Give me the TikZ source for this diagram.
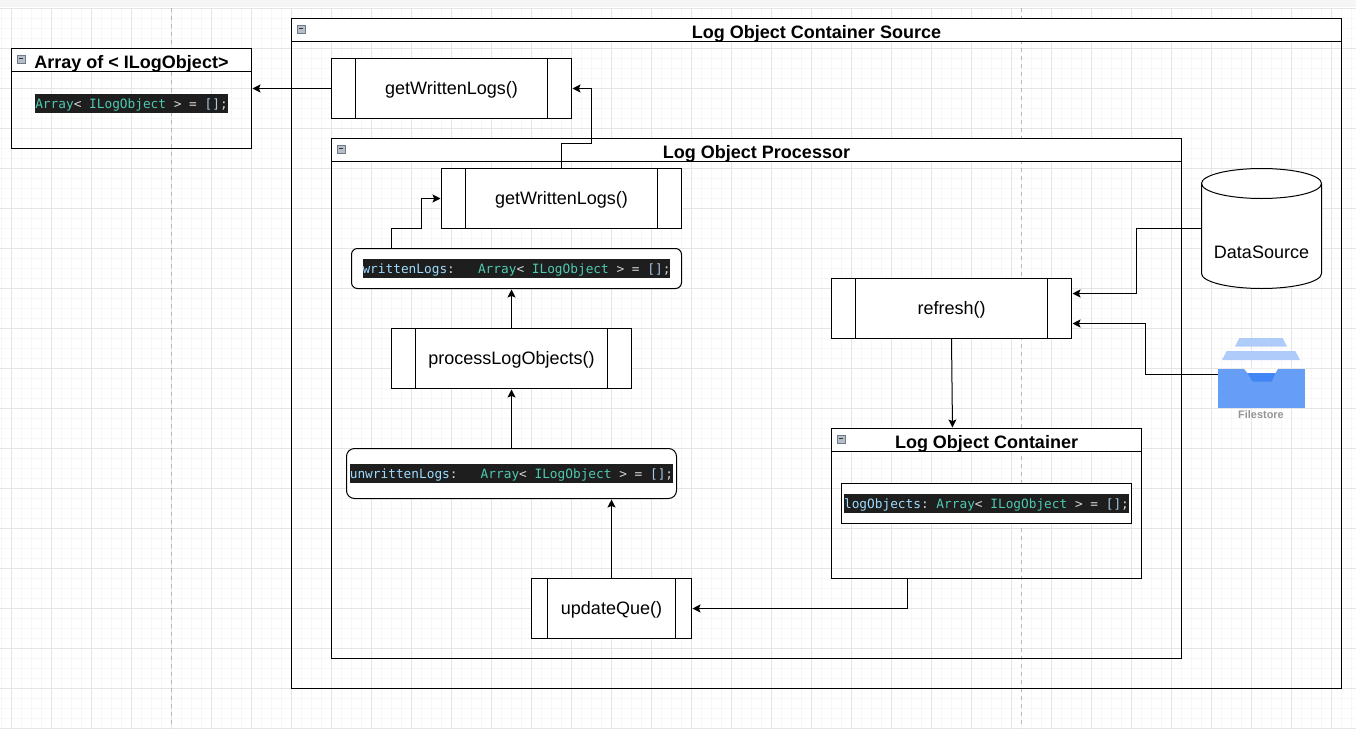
\documentclass[tikz,border=0pt]{standalone}
\usepackage{fontspec}
\setmainfont{Liberation Sans}
\setmonofont{DejaVu Sans Mono}
\usetikzlibrary{arrows.meta}

\newcommand{\px}{0.75pt}
\definecolor{codebg}{HTML}{1E1E1E}
\definecolor{codetype}{HTML}{4EC9B0}
\definecolor{codename}{HTML}{9CDCFE}
\definecolor{codepunct}{HTML}{D4D4D4}
\definecolor{codebrack}{HTML}{A9C8E4}
\definecolor{storelight}{HTML}{AECBFA}
\definecolor{storebody}{HTML}{669DF6}
\definecolor{storedark}{HTML}{4285F4}
\definecolor{btnfill}{HTML}{B8BEC8}
\definecolor{btnedge}{HTML}{6E7A8A}
\newcommand{\arraycode}{\textcolor{codetype}{Array}\textcolor{codepunct}{<~}\textcolor{codetype}{ILogObject}\textcolor{codepunct}{~>~=~}\textcolor{codebrack}{[]}\textcolor{codepunct}{;}}

\tikzset{
  lane/.style={draw, line width=\px, inner sep=0pt, outer sep=0pt, anchor=north west},
  lanetitle/.style={lane, fill=white, minimum height=23*\px, text height=12pt, text depth=0pt, font=\fontsize{13.5}{13.5}\selectfont\bfseries},
  lanebtn/.style={draw=btnedge, fill=btnfill, line width=0.5pt, minimum size=8*\px, inner sep=0pt, anchor=north west, path picture={\draw[black!80, line width=0.7pt] ([xshift=1.5pt]path picture bounding box.west) -- ([xshift=-1.5pt]path picture bounding box.east);}},
  procbox/.style={draw, fill=white, line width=\px, inner sep=0pt, outer sep=0pt, anchor=north west, text height=11.4pt, text depth=2.8pt, font=\fontsize{13.5}{13.5}\selectfont, path picture={
    \draw[line width=\px] ([xshift=#1*\px]path picture bounding box.north west) -- ([xshift=#1*\px]path picture bounding box.south west);
    \draw[line width=\px] ([xshift=-#1*\px]path picture bounding box.north east) -- ([xshift=-#1*\px]path picture bounding box.south east);}},
  codebox/.style={draw, fill=white, line width=\px, inner sep=0pt, outer sep=0pt, anchor=north west},
  codetext/.style={fill=codebg, inner sep=0pt, text height=10.875pt, text depth=3.375pt, font=\ttfamily\fontsize{9.59}{9.59}\selectfont},
  conn/.style={draw, line width=\px, ->, shorten >=\px}
}

\begin{document}
\begin{tikzpicture}[x=\px, y=-\px, >={Stealth[length=6pt, width=6pt, inset=1.2pt]}]
  \useasboundingbox (0,0) rectangle (1356,728);
  % Page band and grid
  \fill[gray!8] (0,0) rectangle (1356,7);
  \foreach \gx in {1,11,...,1351} \draw[black!3, line width=\px] (\gx,8) -- (\gx,728);
  \foreach \gy in {18,28,...,728} \draw[black!3, line width=\px] (0,\gy) -- (1356,\gy);
  \foreach \gx in {11,51,...,1351} \draw[black!10, line width=\px] (\gx,8) -- (\gx,728);
  \foreach \gy in {8,48,...,728} \draw[black!10, line width=\px] (0,\gy) -- (1356,\gy);
  \foreach \gx in {171,1021} \draw[black!28, dashed, line width=\px] (\gx,8) -- (\gx,728);

  % Lanes
  \node[lane, minimum width=240*\px, minimum height=100*\px] (arrayLane) at (11.5,48.5) {};
  \node[lanetitle, minimum width=240*\px] (arrayTitle) at (arrayLane.north west) {Array of < ILogObject>};
  \node[lane, minimum width=1050*\px, minimum height=670*\px] (sourceLane) at (291.5,18.5) {};
  \node[lanetitle, minimum width=1050*\px] (sourceTitle) at (sourceLane.north west) {Log Object Container Source};
  \node[lane, minimum width=850*\px, minimum height=520*\px] (processorLane) at (331.5,138.5) {};
  \node[lanetitle, minimum width=850*\px] (processorTitle) at (processorLane.north west) {Log Object Processor};
  \node[lane, minimum width=310*\px, minimum height=150*\px] (containerLane) at (831.5,428.5) {};
  \node[lanetitle, minimum width=310*\px] (containerTitle) at (containerLane.north west) {Log Object Container};
  \foreach \lane in {arrayLane,sourceLane,processorLane,containerLane}
    \node[lanebtn] at ([xshift=5*\px, yshift=-6*\px]\lane.north west) {};

  % Process boxes
  \node[procbox=24, minimum width=240*\px, minimum height=60*\px] (topLogs) at (331.5,58.5) {getWrittenLogs()};
  \node[procbox=24, minimum width=240*\px, minimum height=60*\px] (innerLogs) at (441.5,168.5) {getWrittenLogs()};
  \node[procbox=24, minimum width=240*\px, minimum height=60*\px] (processLogObjects) at (391.5,328.5) {processLogObjects()};
  \node[procbox=24, minimum width=240*\px, minimum height=60*\px] (refreshMain) at (831.5,278.5) {refresh()};
  \node[procbox=16, minimum width=160*\px, minimum height=60*\px] (updateQue) at (531.5,578.5) {updateQue()};

  % Code boxes
  \node[codebox, rounded corners=6*\px, minimum width=330*\px, minimum height=40*\px] (writtenLogs) at (351.5,248.5) {};
  \node[codebox, rounded corners=8*\px, minimum width=330*\px, minimum height=50*\px] (unwrittenLogs) at (346.5,448.5) {};
  \node[codebox, minimum width=290*\px, minimum height=40*\px] (logObjects) at (841.5,483.5) {};
  \node[codetext] (arrayCode) at (131.5,103.5) {\arraycode};
  \node[codetext] (writtenCode) at (writtenLogs) {\textcolor{codename}{writtenLogs}\textcolor{codepunct}{:~~~}\arraycode};
  \node[codetext] (unwrittenCode) at (unwrittenLogs) {\textcolor{codename}{unwrittenLogs}\textcolor{codepunct}{:~~~}\arraycode};
  \node[codetext] (logObjectsCode) at (logObjects) {\textcolor{codename}{logObjects}\textcolor{codepunct}{:~}\arraycode};

  % Data source
  \node[inner sep=0pt, outer sep=0pt, minimum width=120*\px, minimum height=120*\px] (dataSource) at (1261.5,228.5) {};
  \draw[fill=white, line width=\px] ([yshift=-15*\px]dataSource.north west) arc[start angle=180, end angle=0, x radius=60*\px, y radius=15*\px] -- ([yshift=15*\px]dataSource.south east) arc[start angle=0, end angle=-180, x radius=60*\px, y radius=15*\px] -- cycle;
  \draw[line width=\px] ([yshift=-15*\px]dataSource.north west) arc[start angle=180, end angle=360, x radius=60*\px, y radius=15*\px];
  \node[font=\fontsize{13.5}{13.5}\selectfont] (dataSourceLabel) at (1261.5,252) {DataSource};

  % Filestore icon
  \fill[storelight] (1239.3,338) -- (1282.7,338) -- (1287,346.7) -- (1235,346.7) -- cycle;
  \fill[storelight] (1226.7,351) -- (1295.3,351) -- (1300,360) -- (1222,360) -- cycle;
  \node[fill=storebody, inner sep=0pt, minimum width=86.6*\px, minimum height=39.3*\px, anchor=north west] (fileStore) at (1217.7,368.7) {};
  \fill[white] (1244,368.7) -- (1278,368.7) -- (1275.5,373) -- (1247.5,373) -- cycle;
  \fill[storedark] (1247.5,373) -- (1275.5,373) -- (1271.7,381.7) -- (1252.7,381.7) -- cycle;
  \node[font=\fontsize{8.2}{8.2}\selectfont\bfseries, text=black!42] (fileStoreLabel) at (1261,415) {Filestore};
  \coordinate (fileStoreOut) at (1217.7,374);

  % Connectors
  \coordinate (refreshInA) at ([yshift=15*\px]refreshMain.east);
  \coordinate (refreshInB) at ([yshift=-15*\px]refreshMain.east);
  \draw[conn] (topLogs.west) -- (arrayLane.east |- topLogs.west);
  \draw[conn] (innerLogs.north) |- ++(30,-25) |- (topLogs.east);
  \draw[conn] (processLogObjects.west |- writtenLogs.north) |- ++(30,-20) |- (innerLogs.west);
  \draw[conn] (processLogObjects.north) -- (processLogObjects.north |- writtenLogs.south);
  \draw[conn] (unwrittenLogs.north -| processLogObjects.north) -- (processLogObjects.south);
  \draw[conn] (updateQue.north) -- (updateQue.north |- unwrittenLogs.south);
  \draw[conn] ([xshift=-79*\px]containerLane.south) |- (updateQue.east);
  \draw[conn] (refreshMain.south) -- ([xshift=\px]refreshMain.south |- containerLane.north);
  \draw[conn] (dataSource.west) -- ++(-65,0) |- (refreshInA);
  \draw[conn] (fileStoreOut) -- ++(-72,0) |- (refreshInB);
\end{tikzpicture}
\end{document}
